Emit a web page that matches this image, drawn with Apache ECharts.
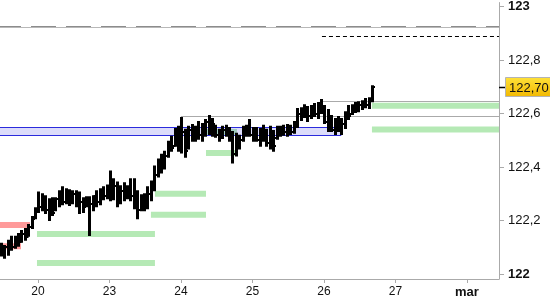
<!DOCTYPE html>
<html>
<head>
<meta charset="utf-8">
<script src="https://cdn.jsdelivr.net/npm/echarts@6/dist/echarts.min.js"></script>
<style>html,body{margin:0;padding:0;background:#fff}#c{width:550px;height:300px}</style>
</head>
<body>
<div id="c"></div>
<script>
// ---- data ----
const dayLabels = ['20', '23', '24', '25', '26', '27', 'mar'];
const dayTicks = [0, 1, 2, 3, 4, 5, 6];
const yTicks = [122, 122.2, 122.4, 122.6, 122.8, 123];
const barStart = -0.517;   // time (trading days since "20") of the first bar
const barStep = 0.0476;    // time between bars

const high = [122.115,122.107,122.126,122.141,122.141,122.152,122.163,122.170,122.185,122.215,
122.248,122.307,122.300,122.293,122.281,122.285,122.285,122.311,122.326,122.319,
122.315,122.311,122.311,122.307,122.285,122.289,122.289,122.293,122.311,122.319,
122.326,122.333,122.385,122.356,122.344,122.330,122.341,122.330,122.356,122.356,
122.311,122.296,122.300,122.326,122.348,122.404,122.430,122.448,122.459,122.496,
122.515,122.544,122.552,122.585,122.541,122.552,122.559,122.552,122.570,122.563,
122.578,122.593,122.581,122.556,122.541,122.552,122.556,122.548,122.533,122.526,
122.519,122.552,122.556,122.578,122.548,122.548,122.544,122.556,122.541,122.552,
122.537,122.552,122.552,122.556,122.559,122.556,122.570,122.619,122.622,122.633,
122.626,122.630,122.637,122.641,122.652,122.630,122.615,122.593,122.581,122.589,
122.581,122.607,122.630,122.633,122.641,122.644,122.648,122.656,122.659,122.704];
const low = [122.067,122.059,122.070,122.089,122.096,122.104,122.119,122.126,122.141,122.170,
122.207,122.230,122.237,122.226,122.200,122.219,122.237,122.252,122.259,122.263,
122.256,122.263,122.252,122.226,122.230,122.252,122.144,122.237,122.252,122.259,
122.278,122.281,122.274,122.278,122.252,122.263,122.274,122.281,122.274,122.244,
122.207,122.237,122.237,122.244,122.274,122.311,122.363,122.378,122.393,122.437,
122.459,122.478,122.459,122.452,122.437,122.467,122.496,122.496,122.504,122.496,
122.515,122.522,122.515,122.511,122.496,122.507,122.515,122.496,122.415,122.441,
122.467,122.496,122.515,122.515,122.496,122.496,122.478,122.496,122.478,122.467,
122.459,122.504,122.515,122.519,122.515,122.522,122.526,122.548,122.574,122.585,
122.570,122.581,122.589,122.581,122.600,122.563,122.533,122.533,122.522,122.533,
122.522,122.544,122.578,122.596,122.604,122.607,122.615,122.622,122.619,122.644];
const open = [122.100,122.080,122.100,122.120,122.100,122.130,122.120,122.150,122.140,122.175,
122.210,122.240,122.250,122.280,122.240,122.270,122.240,122.280,122.300,122.270,
122.300,122.270,122.300,122.260,122.270,122.255,122.280,122.260,122.290,122.270,
122.310,122.290,122.320,122.290,122.330,122.270,122.310,122.290,122.320,122.290,
122.260,122.240,122.280,122.250,122.300,122.330,122.370,122.410,122.400,122.440,
122.480,122.480,122.530,122.480,122.530,122.470,122.540,122.510,122.540,122.520,
122.550,122.570,122.530,122.550,122.520,122.530,122.540,122.520,122.500,122.450,
122.500,122.500,122.540,122.530,122.520,122.540,122.500,122.520,122.510,122.490,
122.530,122.510,122.530,122.540,122.530,122.550,122.530,122.560,122.600,122.590,
122.610,122.590,122.620,122.600,122.630,122.610,122.570,122.560,122.540,122.570,
122.550,122.560,122.600,122.600,122.620,122.610,122.630,122.640,122.630,122.650];
const close = [122.080,122.100,122.120,122.100,122.130,122.120,122.150,122.140,122.175,122.205,
122.240,122.250,122.280,122.240,122.270,122.230,122.280,122.300,122.270,122.300,
122.270,122.300,122.260,122.270,122.250,122.280,122.260,122.290,122.270,122.310,
122.290,122.320,122.290,122.330,122.270,122.310,122.290,122.320,122.290,122.260,
122.240,122.280,122.250,122.300,122.330,122.370,122.410,122.400,122.440,122.480,
122.470,122.530,122.480,122.530,122.460,122.540,122.510,122.540,122.520,122.550,
122.570,122.530,122.560,122.520,122.530,122.540,122.520,122.500,122.450,122.500,
122.500,122.540,122.530,122.520,122.540,122.500,122.520,122.510,122.490,122.530,
122.480,122.530,122.540,122.530,122.550,122.530,122.560,122.600,122.590,122.610,
122.590,122.620,122.600,122.630,122.610,122.570,122.560,122.540,122.570,122.550,
122.560,122.600,122.590,122.620,122.610,122.630,122.640,122.630,122.650,122.700];

// levels: [from, to, price]
const greenLevels = [
  [4.671, 6.448, 122.629],
  [4.671, 6.448, 122.540],
  [2.350, 2.769, 122.452],
  [2.364, 2.783, 122.531],
  [1.636, 2.350, 122.300],
  [1.580, 2.350, 122.222],
  [-0.014, 1.636, 122.150],
  [-0.014, 1.636, 122.041]
];
const redLevels = [
  [-0.531, -0.112, 122.183],
  [-0.531, -0.238, 122.104]
];
const grayLevels = [
  [2.000, 6.448, 122.589],
  [3.944, 6.448, 122.648]
];
const blackDashLevels = [[3.972, 6.448, 122.889]];
const grayDashLevels = [[-0.531, 6.448, 122.926]];
const bandZone = [[-0.531, 4.238, 122.519, 122.548]];

// ---- chart ----
const X_MIN = -0.531, X_MAX = 6.448, Y_MIN = 121.9815, Y_MAX = 123.0148;
const FONT = 'Liberation Sans';

const bars = high.map((h, i) => [barStart + i * barStep, open[i], h, low[i], close[i]]);

const levelItems = [];
greenLevels.forEach(d => levelItems.push([d[0], d[1], d[2], d[2], 0]));
redLevels.forEach(d => levelItems.push([d[0], d[1], d[2], d[2], 1]));
bandZone.forEach(d => levelItems.push([d[0], d[1], d[2], d[3], 2]));
grayLevels.forEach(d => levelItems.push([d[0], d[1], d[2], d[2], 3]));
blackDashLevels.forEach(d => levelItems.push([d[0], d[1], d[2], d[2], 4]));
grayDashLevels.forEach(d => levelItems.push([d[0], d[1], d[2], d[2], 5]));

function fmt(v) {
  const r = Math.round(v * 10) / 10;
  return String(r).replace('.', ',');
}

const chart = echarts.init(document.getElementById('c'), null, {renderer: 'canvas'});
chart.setOption({
  animation: false,
  backgroundColor: '#fff',
  grid: {left: 0, right: 51, top: 0, bottom: 21},
  xAxis: {
    type: 'value', min: X_MIN, max: X_MAX,
    axisLine: {show: true, onZero: false, lineStyle: {color: '#aaaaaa', width: 1}},
    axisTick: {show: false},
    axisLabel: {
      customValues: dayTicks, margin: 7,
      formatter: v => {
        const s = dayLabels[Math.round(v)];
        return s === 'mar' ? '{b|' + s + '}' : s;
      },
      color: '#111', fontFamily: FONT, fontSize: 12,
      rich: {b: {fontWeight: 'bold', fontSize: 13, fontFamily: FONT, color: '#111'}}
    },
    splitLine: {show: false, showMinLine: false, showMaxLine: false},
    minorSplitLine: {show: false},
    splitArea: {show: false}
  },
  yAxis: {
    type: 'value', position: 'right', min: Y_MIN, max: Y_MAX,
    axisLine: {show: true, onZero: false, lineStyle: {color: '#aaaaaa', width: 1}},
    axisTick: {show: true, customValues: yTicks, length: 5, lineStyle: {color: '#aaaaaa'}},
    axisLabel: {
      customValues: yTicks, margin: 9,
      formatter: v => Math.abs(v - Math.round(v)) < 1e-6 ? '{b|' + fmt(v) + '}' : fmt(v),
      color: '#111', fontFamily: FONT, fontSize: 13,
      rich: {b: {fontWeight: 'bold', fontSize: 13, fontFamily: FONT, color: '#111'}}
    },
    splitLine: {show: false},
    splitArea: {show: false}
  },
  series: [
    {
      type: 'custom', z: 1, clip: true,
      encode: {x: [0, 1], y: [2, 3]},
      data: levelItems,
      renderItem: (params, api) => {
        const kind = api.value(4);
        const p1 = api.coord([api.value(0), api.value(2)]);
        const p2 = api.coord([api.value(1), api.value(3)]);
        if (kind === 0 || kind === 1) {
          const th = 6;
          return {type: 'rect', shape: {x: p1[0], y: p1[1] - th / 2, width: p2[0] - p1[0], height: th},
            style: {fill: kind === 0 ? '#b5e9b5' : '#ff9a9a'}};
        }
        if (kind === 2) {
          return {type: 'rect', z2: 5,
            shape: {x: p1[0] - 1, y: Math.round(p2[1]) + 0.5, width: p2[0] - p1[0] + 1, height: Math.round(p1[1] - p2[1])},
            style: {fill: 'rgba(60,60,225,0.18)', stroke: '#2b2bdc', lineWidth: 1}};
        }
        const y = Math.round(p1[1]) + 0.5;
        if (kind === 3) {
          return {type: 'line', z2: 6, shape: {x1: p1[0], y1: y, x2: p2[0], y2: y},
            style: {stroke: '#aaaaaa', lineWidth: 1.2}};
        }
        if (kind === 4) {
          return {type: 'line', z2: 6, shape: {x1: p1[0], y1: y, x2: p2[0], y2: y},
            style: {stroke: '#000', lineWidth: 1, lineDash: [4, 3]}};
        }
        return {type: 'group', children: [
          {type: 'line', shape: {x1: p1[0], y1: y + 1, x2: p2[0], y2: y + 1}, style: {stroke: '#b8b8b8', lineWidth: 1}},
          {type: 'line', shape: {x1: p1[0], y1: y, x2: p2[0], y2: y}, style: {stroke: '#8c8c8c', lineWidth: 1.2, lineDash: [25, 10], lineDashOffset: 4}}
        ]};
      }
    },
    {
      type: 'custom', z: 3, clip: true,
      encode: {x: 0, y: [1, 2, 3, 4]},
      data: bars,
      renderItem: (params, api) => {
        const t = api.value(0);
        const pH = api.coord([t, api.value(2)]);
        const pL = api.coord([t, api.value(3)]);
        const pO = api.coord([t, api.value(1)]);
        const pC = api.coord([t, api.value(4)]);
        const x = Math.round(pH[0]) + 0.5;
        const yo = Math.round(pO[1]), yc = Math.round(pC[1]);
        return {type: 'group', children: [
          {type: 'line', shape: {x1: x, y1: pH[1] - 0.5, x2: x, y2: pL[1] + 0.5}, style: {stroke: '#000', lineWidth: 3}},
          {type: 'line', shape: {x1: x - 2.5, y1: yo, x2: x, y2: yo}, style: {stroke: '#000', lineWidth: 2}},
          {type: 'line', shape: {x1: x, y1: yc, x2: x + 2.5, y2: yc}, style: {stroke: '#000', lineWidth: 2}}
        ]};
      }
    },
    {
      // x-axis ticks, drawn below the axis line
      type: 'custom', z: 4, clip: false, silent: true,
      encode: {x: 0},
      data: dayTicks.map(d => [d]),
      renderItem: (params, api) => {
        const p = api.coord([api.value(0), Y_MIN]);
        const x = Math.round(p[0]) + 0.5;
        return {type: 'line', shape: {x1: x, y1: p[1], x2: x, y2: p[1] + 4}, style: {stroke: '#aaaaaa', lineWidth: 1}};
      }
    }
  ]
});

// last price marker on the right axis
const last = close[close.length - 1];
const py = Math.round(chart.convertToPixel({yAxisIndex: 0}, last));
chart.setOption({
  graphic: [
    {type: 'line', shape: {x1: 499, y1: py + 0.5, x2: 505, y2: py + 0.5}, style: {stroke: '#000', lineWidth: 1.5}, z: 10},
    {type: 'rect', shape: {x: 505.5, y: py - 9.5, width: 46, height: 19},
      style: {fill: new echarts.graphic.LinearGradient(0, 0, 0, 1, [{offset: 0, color: '#ffe23a'}, {offset: 1, color: '#f2b800'}]), stroke: '#b4b4b4', lineWidth: 1}, z: 10},
    {type: 'text', x: 509, y: py + 1, style: {text: last.toFixed(2).replace('.', ','), font: '13px "' + FONT + '"', fill: '#111', textVerticalAlign: 'middle'}, z: 11}
  ]
});
</script>
</body>
</html>
